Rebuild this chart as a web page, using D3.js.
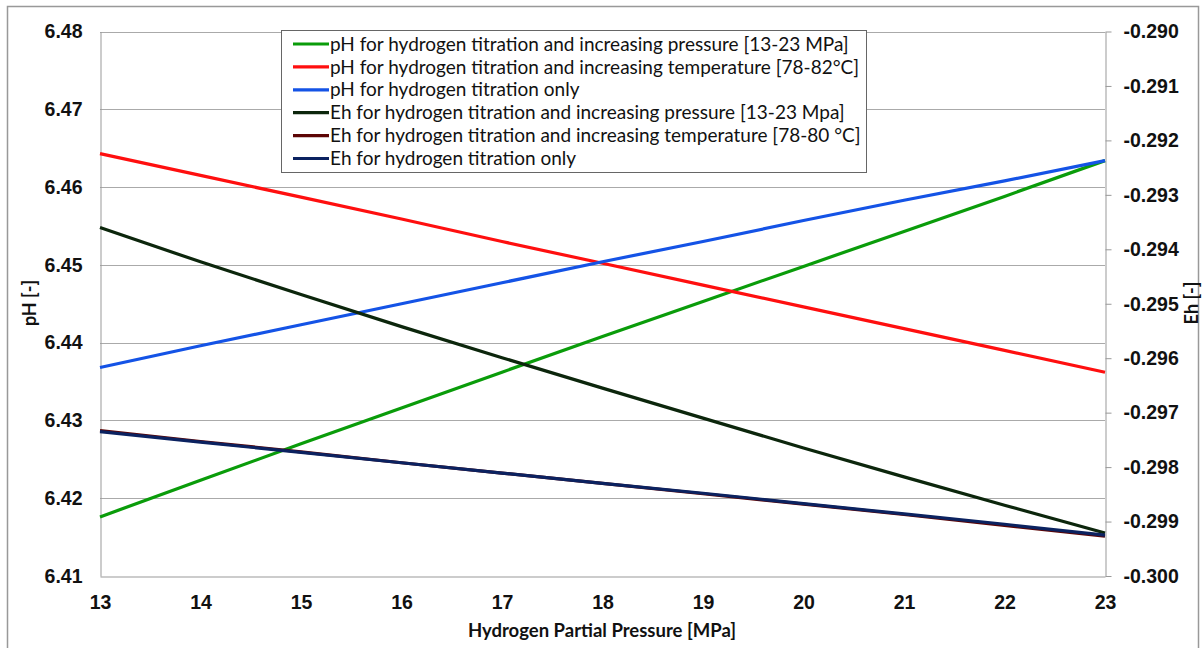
<!DOCTYPE html>
<html>
<head>
<meta charset="utf-8">
<script src="https://cdn.jsdelivr.net/npm/d3@7"></script>
<style>
  body { margin: 0; background: #fff; }
  svg { font-family: Lato, "Open Sans", sans-serif; }
  .tick text { font-weight: bold; font-size: 19.5px; fill: #111; }
  .domain { stroke: #999; }
</style>
</head>
<body>
<div id="chart"></div>
<script>
// x values: hydrogen partial pressure [MPa]
let pressure = [13, 14, 15, 16, 17, 18, 19, 20, 21, 22, 23];

// pH series (left axis)
let phPressure    = [6.4176, 6.4223, 6.4270, 6.4316, 6.4362, 6.4408, 6.4453, 6.4498, 6.4543, 6.4588, 6.4634];
let phTemperature = [6.4643, 6.4615, 6.4587, 6.4559, 6.4530, 6.4502, 6.4474, 6.4446, 6.4418, 6.4390, 6.4362];
let phOnly        = [6.4368, 6.4396, 6.4423, 6.4450, 6.4477, 6.4504, 6.4530, 6.4557, 6.4583, 6.4608, 6.4634];

// Eh series (right axis)
let ehPressure    = [-0.29360, -0.29423, -0.29483, -0.29542, -0.29599, -0.29655, -0.29710, -0.29765, -0.29818, -0.29870, -0.29921];
let ehTemperature = [-0.29733, -0.29753, -0.29772, -0.29792, -0.29811, -0.29830, -0.29849, -0.29868, -0.29887, -0.29907, -0.29927];
let ehOnly        = [-0.29735, -0.29754, -0.29773, -0.29792, -0.29811, -0.29830, -0.29848, -0.29867, -0.29886, -0.29905, -0.29925];

let seriesNames = [
    'pH for hydrogen titration and increasing pressure [13-23 MPa]',
    'pH for hydrogen titration and increasing temperature [78-82\u00b0C]',
    'pH for hydrogen titration only',
    'Eh for hydrogen titration and increasing pressure [13-23 Mpa]',
    'Eh for hydrogen titration and increasing temperature [78-80 \u00b0C]',
    'Eh for hydrogen titration only'
];
let seriesColors = ['#0a9c0a', '#ff0f0f', '#1453e6', '#0c260c', '#5c0505', '#0b2260'];

let xTicks = [13, 14, 15, 16, 17, 18, 19, 20, 21, 22, 23];
let phTicks = [6.41, 6.42, 6.43, 6.44, 6.45, 6.46, 6.47, 6.48];
let ehTicks = [-0.300, -0.299, -0.298, -0.297, -0.296, -0.295, -0.294, -0.293, -0.292, -0.291, -0.290];

const W = 1203, H = 648;
const plot = { left: 100, right: 1105, top: 31.5, bottom: 576 };

let svg = d3.select('#chart').append('svg')
    .attr('width', W)
    .attr('height', H);

// outer chart border
svg.append('rect')
    .attr('x', 7.5).attr('y', 6.5)
    .attr('width', 1191).attr('height', 700)
    .attr('fill', 'none').attr('stroke', '#999').attr('stroke-width', 1.5);

let x = d3.scaleLinear().domain([13, 23]).range([plot.left, plot.right]);
let yPH = d3.scaleLinear().domain([6.41, 6.48]).range([plot.bottom, plot.top]);
let yEh = d3.scaleLinear().domain([-0.300, -0.290]).range([plot.bottom, plot.top]);

// horizontal grid lines
svg.append('g').selectAll('line')
    .data(phTicks.slice(1))
    .enter().append('line')
    .attr('x1', plot.left).attr('x2', plot.right)
    .attr('y1', function(d) { return Math.round(yPH(d)) + 0.5; })
    .attr('y2', function(d) { return Math.round(yPH(d)) + 0.5; })
    .attr('stroke', '#aaa').attr('stroke-width', 1);

// left axis
let axisLeft = d3.axisLeft(yPH).tickValues(phTicks).tickSize(0).tickPadding(18)
    .tickFormat(d3.format('.2f'));
svg.append('g')
    .attr('transform', 'translate(' + (plot.left + 0.5) + ',0)')
    .call(axisLeft);

// right axis
let axisRight = d3.axisRight(yEh).tickValues(ehTicks).tickSizeInner(6).tickSizeOuter(0).tickPadding(12);
let gR = svg.append('g')
    .attr('transform', 'translate(' + (plot.right + 0.5) + ',0)')
    .call(axisRight);
gR.selectAll('.tick line').attr('stroke', '#999');
gR.selectAll('.tick text').text(function(d) { return d.toFixed(3); });

// bottom axis
let axisBottom = d3.axisBottom(x).tickValues(xTicks).tickSize(0).tickPadding(19)
    .tickFormat(d3.format('d'));
svg.append('g')
    .attr('transform', 'translate(0,' + (plot.bottom + 0.5) + ')')
    .call(axisBottom);

// axis titles
svg.append('text')
    .attr('x', 602).attr('y', 637)
    .attr('text-anchor', 'middle')
    .attr('font-weight', 'bold').attr('font-size', 18.5)
    .attr('fill', '#111')
    .text('Hydrogen Partial Pressure [MPa]');

svg.append('text')
    .attr('transform', 'translate(36,303) rotate(-90)')
    .attr('text-anchor', 'middle')
    .attr('font-weight', 'bold').attr('font-size', 18)
    .attr('fill', '#111')
    .text('pH [-]');

svg.append('text')
    .attr('transform', 'translate(1198,303) rotate(-90)')
    .attr('text-anchor', 'middle')
    .attr('font-weight', 'bold').attr('font-size', 18)
    .attr('fill', '#111')
    .text('Eh [-]');

// series lines
let linePH = d3.line()
    .x(function(d) { return x(d[0]); })
    .y(function(d) { return yPH(d[1]); });
let lineEh = d3.line()
    .x(function(d) { return x(d[0]); })
    .y(function(d) { return yEh(d[1]); });

function zipSeries(values) {
    return pressure.map(function(p, i) { return [p, values[i]]; });
}

let phSeries = [phPressure, phTemperature, phOnly];
let ehSeries = [ehPressure, ehTemperature, ehOnly];

let gLines = svg.append('g').attr('fill', 'none').attr('stroke-width', 3.2)
    .attr('stroke-linejoin', 'round');

phSeries.forEach(function(values, i) {
    gLines.append('path')
        .attr('d', linePH(zipSeries(values)))
        .attr('stroke', seriesColors[i]);
});
ehSeries.forEach(function(values, i) {
    gLines.append('path')
        .attr('d', lineEh(zipSeries(values)))
        .attr('stroke', seriesColors[i + 3]);
});

// legend
let legend = svg.append('g');
legend.append('rect')
    .attr('x', 281.5).attr('y', 30.5)
    .attr('width', 585).attr('height', 142)
    .attr('fill', '#fff').attr('stroke', '#666').attr('stroke-width', 1);

let rows = legend.selectAll('g.legend-row')
    .data(seriesNames)
    .enter().append('g')
    .attr('class', 'legend-row')
    .attr('transform', function(d, i) { return 'translate(0,' + (44 + i * 22.9) + ')'; });

rows.append('line')
    .attr('x1', 293).attr('x2', 329)
    .attr('y1', 0).attr('y2', 0)
    .attr('stroke', function(d, i) { return seriesColors[i]; })
    .attr('stroke-width', 3.2);

rows.append('text')
    .attr('x', 330).attr('y', 0)
    .attr('dy', '0.35em')
    .attr('font-size', 19)
    .attr('fill', '#111')
    .text(function(d) { return d; });
</script>
</body>
</html>
